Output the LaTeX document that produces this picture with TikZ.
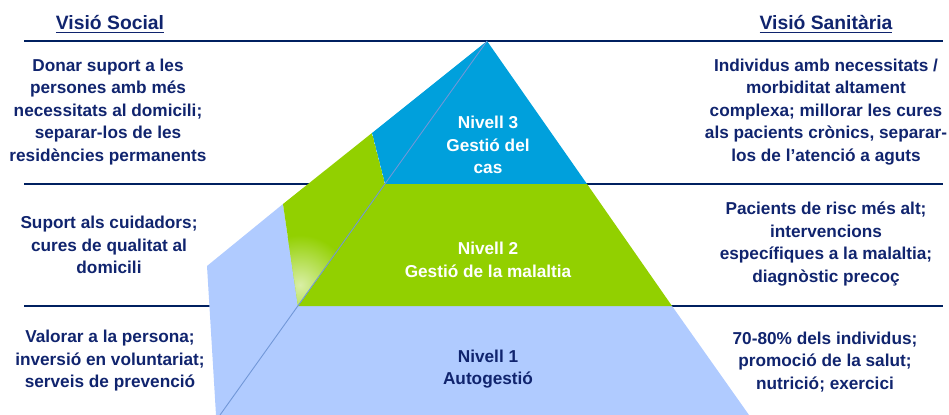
\documentclass[tikz,border=0pt]{standalone}
\usepackage{fontspec}
\setmainfont{Liberation Sans}
\usetikzlibrary{positioning}
\definecolor{visInk}{RGB}{16,36,110}
\definecolor{visRule}{RGB}{0,32,96}
\definecolor{lvlTop}{RGB}{0,160,220}
\definecolor{lvlMid}{RGB}{146,208,0}
\definecolor{lvlBase}{RGB}{176,203,255}
\definecolor{lvlRidge}{RGB}{112,150,215}
\tikzset{
  % text blocks beside the pyramid
  txt/.style={align=center, inner sep=0pt, text=visInk,
              font=\fontsize{9.8}{12.8}\selectfont\bfseries},
  hdr/.style={inner sep=0pt, text=visInk, font=\fontsize{11}{13}\selectfont\bfseries},
  lvl/.style={txt, text=white},
  % the navy rules between the rows
  rule/.style={draw=visRule, line width=1.7pt},
}
\begin{document}
\begin{tikzpicture}[x=0.02cm, y=-0.02cm]
\useasboundingbox (0,0) rectangle (949,415);

% ============================ rules ====================================
\foreach \ry/\rn in {41/a, 184/b, 306/c} {
  \coordinate (rule\rn W) at (24,\ry);
  \coordinate (rule\rn E) at (943,\ry);
  \draw[rule] (rule\rn W) -- (rule\rn E);
}

% =========================== pyramid ===================================
\coordinate (apex) at (487,41);
\coordinate (fl3) at (385,184);  \coordinate (fr3) at (587,184);
\coordinate (fl2) at (298,306);  \coordinate (fr2) at (672,306);
\coordinate (fl1) at (220,415);  \coordinate (fr1) at (749,415);
\coordinate (sl3) at (372,133);  \coordinate (sl2) at (283,204);
\coordinate (sl1) at (207,266);  \coordinate (sl0) at (216,415);

% front face
\fill[lvlBase] (fl2) -- (fr2) -- (fr1) -- (fl1) -- cycle;
\fill[lvlMid]  (fl3) -- (fr3) -- (fr2) -- (fl2) -- cycle;
\fill[lvlTop]  (apex) -- (fr3) -- (fl3) -- cycle;

% side face
\fill[lvlTop]  (apex) -- (sl3) -- (fl3) -- cycle;
\fill[lvlBase] (sl2) -- (sl1) -- (sl0) -- (fl1) -- (fl2) -- cycle;
\begin{scope}
  \clip (sl3) -- (sl2) -- (fl2) -- (fl3) -- cycle;
  \fill[lvlMid] (sl3) -- (sl2) -- (fl2) -- (fl3) -- cycle;
  \shade[inner color=lvlMid!35!white, outer color=lvlMid] (300,285) circle (50);
\end{scope}

\draw[lvlRidge, line width=0.5pt] (apex) -- (fl1);

% ============================ labels ===================================
\node[lvl] (lvl3) at (488,145) {Nivell 3\\Gestió del\\cas};
\node[lvl] (lvl2) at (488,260) {Nivell 2\\Gestió de la malaltia};
\node[txt] (lvl1) at (488,369) {Nivell 1\\Autogestió};

\node[hdr] (socHead) at (110,24) {\underline{Visió Social}};
\node[hdr] (sanHead) at (826,24) {\underline{Visió Sanitària}};

\node[txt] (socTop)  at (108,112) {Donar suport a les\\persones amb més\\necessitats al domicili;\\separar-los de les\\residències permanents};
\node[txt] (socMid)  at (109,245) {Suport als cuidadors;\\cures de qualitat al\\domicili};
\node[txt] (socBase) at (110,361) {Valorar a la persona;\\inversió en voluntariat;\\serveis de prevenció};

\node[txt] (sanTop)  at (826,112) {Individus amb necessitats /\\morbiditat altament\\complexa; millorar les cures\\als pacients crònics, separar-\\los de l'atenció a aguts};
\node[txt] (sanMid)  at (826,244) {Pacients de risc més alt;\\intervencions\\específiques a la malaltia;\\diagnòstic precoç};
\node[txt] (sanBase) at (825,362) {70-80\% dels individus;\\promoció de la salut;\\nutrició; exercici};

\end{tikzpicture}
\end{document}
